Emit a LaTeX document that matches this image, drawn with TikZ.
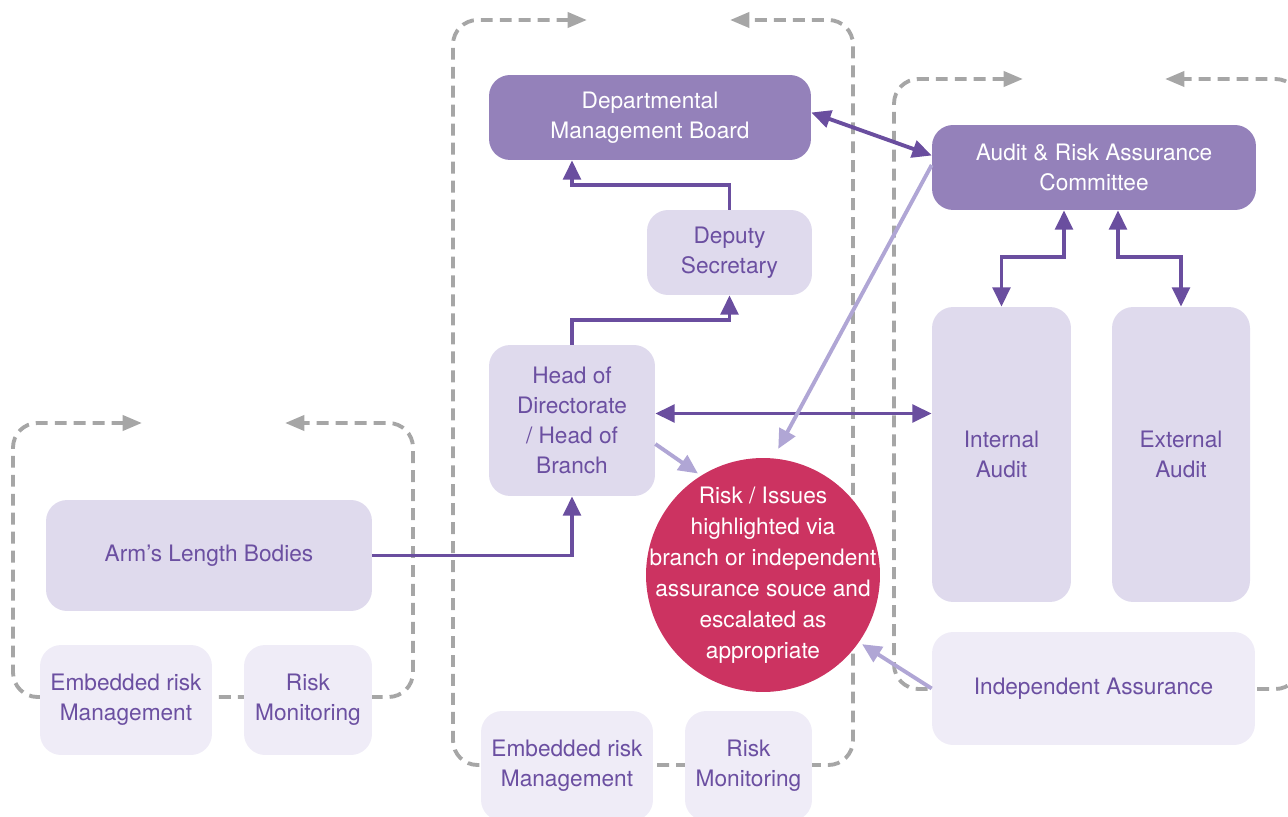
\documentclass[tikz,border=0pt]{standalone}
\usepackage{fontspec}
\setmainfont{TeX Gyre Heros}
\usetikzlibrary{arrows.meta,calc}

\definecolor{boardfill}{HTML}{9481BA}
\definecolor{boxfill}{HTML}{DFDAED}
\definecolor{palefill}{HTML}{EFECF7}
\definecolor{inkpurple}{HTML}{6B4FA1}
\definecolor{linkdark}{HTML}{6A4E9F}
\definecolor{linklight}{HTML}{B0A6D5}
\definecolor{riskred}{HTML}{CC3361}
\definecolor{loopgrey}{HTML}{A6A6A6}

\begin{document}
\begin{tikzpicture}[x=0.02cm,y=-0.02cm,
  font=\fontsize{12.9}{17}\selectfont,
  board/.style={rounded corners=12pt,fill=boardfill,text=white,align=center,inner sep=0pt},
  unit/.style={rounded corners=12pt,fill=boxfill,text=inkpurple,align=center,inner sep=0pt},
  pale/.style={rounded corners=12pt,fill=palefill,text=inkpurple,align=center,inner sep=0pt},
  loop/.style={draw=loopgrey,line width=2.2pt,dash pattern=on 6.8pt off 4pt,rounded corners=14pt,
    {Triangle[length=11pt,width=8.5pt]}-{Triangle[length=11pt,width=8.5pt]}},
  link/.style={draw=linkdark,line width=2.2pt,-{Triangle[length=11pt,width=10pt]}},
  twoway/.style={link,{Triangle[length=11pt,width=10pt]}-{Triangle[length=11pt,width=10pt]}},
  soft/.style={draw=linklight,line width=2.2pt,-{Triangle[length=11pt,width=10pt]},shorten >=2pt}]
  \useasboundingbox (0,0) rectangle (1288,817);
  \clip (0,0) rectangle (1288,817);

  % review loops
  \draw[loop] (142,423) -- (13,423) -- (13,697) -- (413,697) -- (413,423) -- (285,423);
  \draw[loop] (587,20) -- (453,20) -- (453,765) -- (853,765) -- (853,20) -- (730,20);
  \draw[loop] (1023,79) -- (894,79) -- (894,689) -- (1300,689) -- (1300,79) -- (1165,79);

  \node[board,minimum width=6.44cm,minimum height=1.7cm] (dmb) at (650,117.5) {Departmental\\Management Board};
  \node[board,minimum width=6.48cm,minimum height=1.7cm] (arac) at (1094,167.5) {Audit \& Risk Assurance\\Committee};
  \node[unit,minimum width=3.3cm,minimum height=1.7cm] (deputy) at (729.5,252.5) {Deputy\\Secretary};
  \node[unit,minimum width=3.32cm,minimum height=3.02cm] (head) at (572,420.5) {Head of\\Directorate\\/ Head of\\Branch};
  \node[unit,minimum width=6.52cm,minimum height=2.22cm] (alb) at (209,555.5) {Arm’s Length Bodies};
  \node[pale,minimum width=3.44cm,minimum height=2.2cm] (embedL) at (126,700) {Embedded risk\\Management};
  \node[pale,minimum width=2.56cm,minimum height=2.2cm] (monitorL) at (308,700) {Risk\\Monitoring};
  \node[pale,minimum width=3.44cm,minimum height=2.2cm] (embedM) at (567,766) {Embedded risk\\Management};
  \node[pale,minimum width=2.54cm,minimum height=2.2cm] (monitorM) at (748.5,766) {Risk\\Monitoring};
  \node[unit,minimum width=2.78cm,minimum height=5.9cm] (internal) at (1001.5,454.5) {Internal\\Audit};
  \node[unit,minimum width=2.76cm,minimum height=5.9cm] (external) at (1181,454.5) {External\\Audit};
  \node[pale,minimum width=6.46cm,minimum height=2.26cm] (indep) at (1093.5,688.5) {Independent Assurance};
  \node[circle,fill=riskred,inner sep=0pt,minimum size=4.68cm,
    label={[text=white,align=center,font=\fontsize{12.9}{17.6}\selectfont]center:Risk / Issues\\highlighted via\\branch or independent\\assurance souce and\\escalated as\\appropriate}]
    (risk) at (763,575) {};

  \draw[twoway] ($(dmb.east)+(0,-5)$) -- ($(arac.west)+(0,-12)$);
  \draw[link] (deputy.north) -- ++(0,-25) -| (head.north |- dmb.south);
  \draw[link] (head.north) -- ++(0,-25) -| (deputy.south);
  \draw[link] (alb.east) -| (head.south);
  \draw[twoway] ($(head.east)+(0,-7)$) coordinate (hx) -- (hx -| internal.west);
  \draw[twoway] ($(arac.south)+(-30,0)$) -- ++(0,47) -| (internal.north);
  \draw[twoway] ($(arac.south)+(24,0)$) -- ++(0,47) -| (external.north);

  \draw[soft] ($(head.east)+(0,23.5)$) -- (risk.122);
  \draw[soft,shorten >=6pt] ($(arac.west)+(0,-2.5)$) -- (risk.85);
  \draw[soft] (indep.west) -- (risk.-35);
\end{tikzpicture}
\end{document}
